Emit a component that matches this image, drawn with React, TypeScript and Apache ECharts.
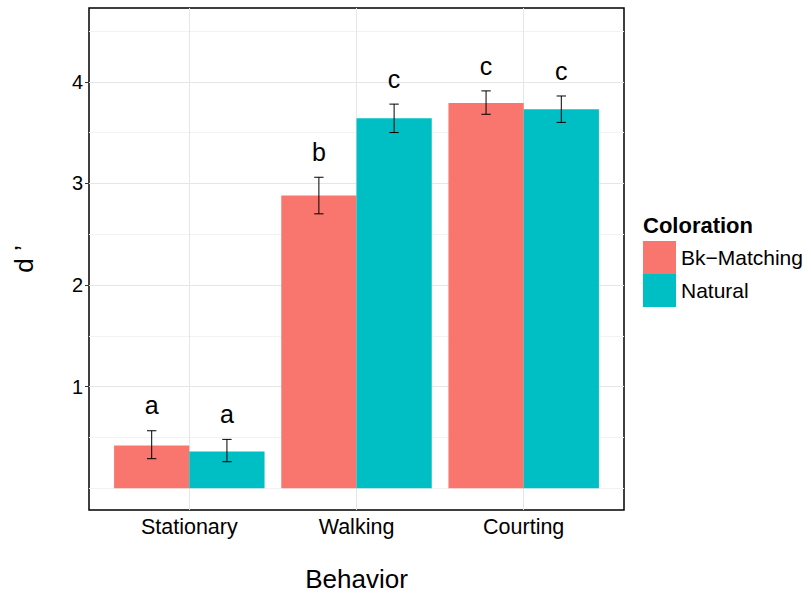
import React, { useEffect, useRef } from "react";
import * as echarts from "echarts";

// Behaviour categories and per-coloration means with error-bar bounds
const categories = ["Stationary", "Walking", "Courting"];
const seriesNames = ["Bk\u2212Matching", "Natural"];

const bkMatching = [0.42, 2.88, 3.79];
const bkLower = [0.29, 2.7, 3.68];
const bkUpper = [0.565, 3.06, 3.91];
const bkLetters = ["a", "b", "c"];

const natural = [0.36, 3.64, 3.73];
const natLower = [0.26, 3.5, 3.6];
const natUpper = [0.48, 3.78, 3.86];
const natLetters = ["a", "c", "c"];

const yTicks = [1, 2, 3, 4];
const majorGrid = [1, 2, 3, 4];
const minorGrid = [0, 0.5, 1.5, 2.5, 3.5, 4.5];

const FONT = "'Liberation Sans', Arial, Helvetica, sans-serif";
const COLORS = ["#F8766D", "#00BFC4"];

const HALF_BAR = 0.225;
const CAP_HALF = 0.028;
const LETTER_GAP = 0.25;

function makeSeries(
  name: string,
  color: string,
  values: number[],
  lower: number[],
  upper: number[],
  letters: string[],
  offset: number,
  withGrid: boolean
) {
  const data = values.map((v, i) => [i + 1, v, lower[i], upper[i]]);
  const s: any = {
    type: "custom",
    name,
    itemStyle: { color },
    z: 2,
    data,
    encode: { x: 0, y: [1, 2, 3] },
    renderItem: (params: any, api: any) => {
      const x = api.value(0) + offset;
      const y = api.value(1);
      const lo = api.value(2);
      const hi = api.value(3);
      const tl = api.coord([x - HALF_BAR, y]);
      const br = api.coord([x + HALF_BAR, 0]);
      const cTop = api.coord([x, hi]);
      const cBot = api.coord([x, lo]);
      const capL = api.coord([x - CAP_HALF, hi]);
      const capR = api.coord([x + CAP_HALF, hi]);
      const lab = api.coord([x, hi + LETTER_GAP]);
      const stroke = { stroke: "#000", lineWidth: 1 };
      return {
        type: "group",
        children: [
          {
            type: "rect",
            shape: { x: tl[0], y: tl[1], width: br[0] - tl[0], height: br[1] - tl[1] },
            style: { fill: color },
          },
          { type: "line", shape: { x1: cTop[0], y1: cTop[1], x2: cBot[0], y2: cBot[1] }, style: stroke },
          { type: "line", shape: { x1: capL[0], y1: capL[1], x2: capR[0], y2: capR[1] }, style: stroke },
          { type: "line", shape: { x1: capL[0], y1: cBot[1], x2: capR[0], y2: cBot[1] }, style: stroke },
          {
            type: "text",
            style: {
              text: letters[params.dataIndex],
              x: lab[0],
              y: lab[1],
              textAlign: "center",
              textVerticalAlign: "middle",
              fontSize: 25,
              fontFamily: FONT,
              fill: "#000",
            },
          },
        ],
      };
    },
  };
  if (withGrid) {
    s.markLine = {
      silent: true,
      z: 1,
      symbol: ["none", "none"],
      label: { show: false },
      animation: false,
      data: [
        ...minorGrid.map((v) => ({ yAxis: v, lineStyle: { color: "#f2f2f2", width: 1, type: "solid" } })),
        ...majorGrid.map((v) => ({ yAxis: v, lineStyle: { color: "#e6e6e6", width: 1, type: "solid" } })),
        ...categories.map((_, i) => ({ xAxis: i + 1, lineStyle: { color: "#e6e6e6", width: 1, type: "solid" } })),
      ],
    };
  }
  return s;
}

export default function App() {
  const ref = useRef<HTMLDivElement>(null);

  useEffect(() => {
    if (!ref.current) return;
    const chart = echarts.init(ref.current, null, { renderer: "svg" });
    chart.setOption({
      animation: false,
      backgroundColor: "#fff",
      textStyle: { fontFamily: FONT },
      grid: {
        left: 89,
        right: 187,
        top: 8,
        bottom: 84,
        show: true,
        borderColor: "#000",
        borderWidth: 1.5,
        backgroundColor: "transparent",
      },
      xAxis: {
        type: "value",
        min: 0.4,
        max: 3.6,
        name: "Behavior",
        nameLocation: "middle",
        nameGap: 56,
        nameTextStyle: { fontSize: 26, color: "#000", fontFamily: FONT },
        axisLine: { show: false },
        splitLine: { show: false },
        axisTick: { show: true, length: 4, customValues: [1, 2, 3], lineStyle: { color: "#333" } },
        axisLabel: {
          customValues: [1, 2, 3],
          formatter: (v: number) => categories[Math.round(v) - 1] ?? "",
          fontSize: 21.5,
          color: "#000",
          margin: 6,
          fontFamily: FONT,
        },
      },
      yAxis: {
        type: "value",
        min: -0.215,
        max: 4.726,
        name: "d \u2019",
        nameLocation: "middle",
        nameRotate: 90,
        nameGap: 52,
        nameTextStyle: { fontSize: 26, color: "#000", fontFamily: FONT },
        axisLine: { show: false },
        splitLine: { show: false },
        axisTick: { show: true, length: 4, customValues: yTicks, lineStyle: { color: "#333" } },
        axisLabel: {
          customValues: yTicks,
          fontSize: 20,
          color: "#000",
          margin: 6,
          fontFamily: FONT,
        },
      },
      legend: {
        data: seriesNames,
        orient: "vertical",
        left: 643,
        top: 241,
        padding: 0,
        icon: "rect",
        itemWidth: 33,
        itemHeight: 33,
        itemGap: 0,
        selectedMode: false,
        textStyle: { fontSize: 21, color: "#000", fontFamily: FONT },
      },
      graphic: [
        {
          type: "text",
          left: 643,
          top: 214,
          style: { text: "Coloration", fontSize: 22, fontWeight: "bold", fill: "#000", fontFamily: FONT },
        },
      ],
      series: [
        makeSeries(seriesNames[0], COLORS[0], bkMatching, bkLower, bkUpper, bkLetters, -HALF_BAR, true),
        makeSeries(seriesNames[1], COLORS[1], natural, natLower, natUpper, natLetters, HALF_BAR, false),
      ],
    });
    return () => chart.dispose();
  }, []);

  return <div ref={ref} style={{ position: "absolute", left: 0, top: 0, width: 811, height: 597 }} />;
}
